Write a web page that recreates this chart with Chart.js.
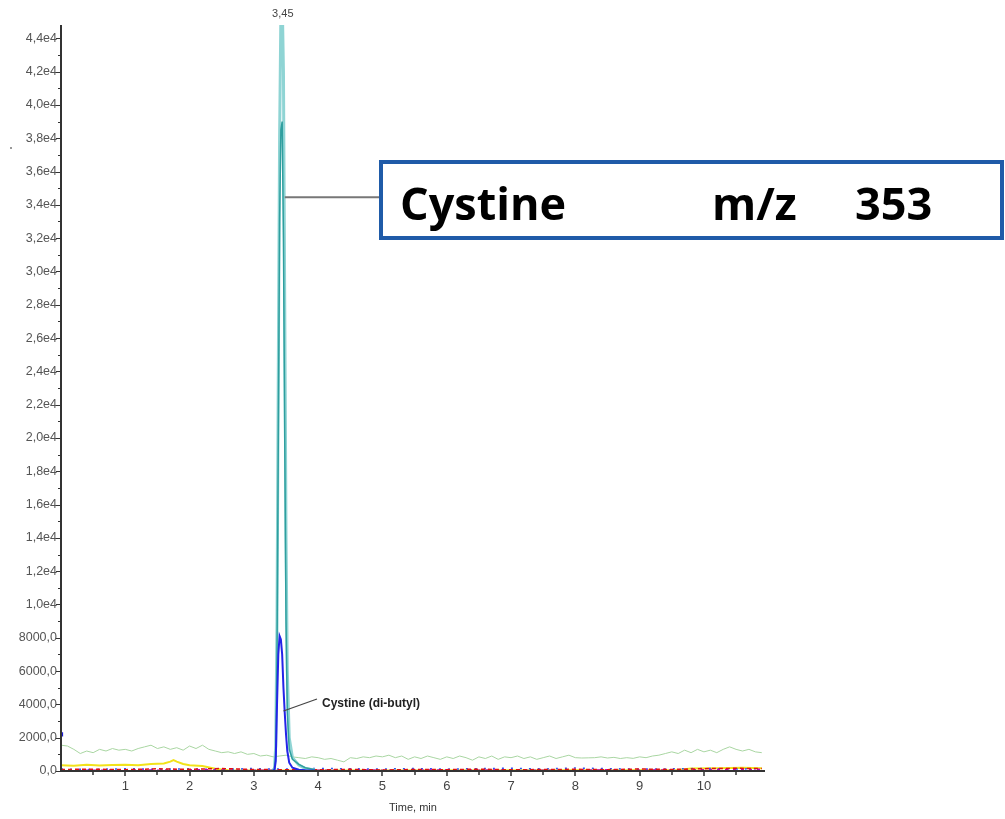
<!DOCTYPE html>
<html>
<head>
<meta charset="utf-8">
<script src="https://cdn.jsdelivr.net/npm/chart.js@4.4.1/dist/chart.umd.min.js"></script>
<style>
  html, body { margin: 0; padding: 0; background: #fff; }
  #wrap { width: 1005px; height: 819px; position: relative; }
</style>
</head>
<body>
<div id="wrap"><canvas id="c" width="1005" height="819"></canvas></div>
<script>
// ---------- data ----------
const yTickValues = [0,2000,4000,6000,8000,10000,12000,14000,16000,18000,20000,22000,24000,26000,28000,30000,32000,34000,36000,38000,40000,42000,44000];
const xTickValues = [1,2,3,4,5,6,7,8,9,10];

const greenTime = [0.0,0.1,0.2,0.3,0.4,0.5,0.6,0.7,0.8,0.9,1.0,1.1,1.2,1.3,1.4,1.5,1.6,1.7,1.8,1.9,2.0,2.1,2.2,2.3,2.4,2.5,2.6,2.7,2.8,2.9,3.0,3.1,3.2,3.3,3.4,3.5,3.6,3.7,3.8,3.9,4.0,4.1,4.2,4.3,4.4,4.5,4.6,4.7,4.8,4.9,5.0,5.1,5.2,5.3,5.4,5.5,5.6,5.7,5.8,5.9,6.0,6.1,6.2,6.3,6.4,6.5,6.6,6.7,6.8,6.9,7.0,7.1,7.2,7.3,7.4,7.5,7.6,7.7,7.8,7.9,8.0,8.1,8.2,8.3,8.4,8.5,8.6,8.7,8.8,8.9,9.0,9.1,9.2,9.3,9.4,9.5,9.6,9.7,9.8,9.9,10.0,10.1,10.2,10.3,10.4,10.5,10.6,10.7,10.8,10.9];
const greenTrace = [1550,1500,1300,1050,1200,1100,1300,1200,1350,1250,1300,1200,1350,1450,1550,1350,1450,1300,1400,1250,1500,1350,1550,1300,1200,1100,1150,1050,1150,1000,1050,900,950,850,900,950,850,800,750,850,800,700,750,650,550,800,750,850,800,900,850,950,800,900,700,850,750,900,800,700,850,750,900,800,650,850,750,900,700,850,800,900,750,850,700,800,900,750,850,950,800,780,790,800,850,780,820,750,800,760,850,800,900,950,1050,1150,1050,1250,1100,1300,1150,1250,1100,1300,1450,1300,1200,1300,1150,1100];

const yellowTime = [0.0,0.2,0.4,0.6,0.8,1.0,1.2,1.4,1.6,1.7,1.75,1.8,1.9,2.0,2.2,2.4,2.6,3.0,5.0,8.0,9.6,9.8,10.2,10.6,10.9];
const yellowTrace = [350,320,380,330,360,380,340,420,450,560,650,560,420,350,300,140,50,30,30,40,60,150,170,190,160];

const peakTime = [3.28,3.32,3.34,3.36,3.38,3.40,3.42,3.44,3.46,3.48,3.50,3.52,3.55,3.60,3.70,3.80,3.95];
const tealLight = [0,150,1500,9000,24000,38000,45500,46500,42000,28000,14000,6000,2000,800,350,150,60];
const tealDark  = [0,100,1000,7000,20000,33000,38500,39000,32000,20000,9000,3500,1300,700,400,200,80];
const bluePeak  = [0,50,600,4000,7000,8100,7900,7000,5000,3500,2200,1200,500,200,80,40,20];

const baseTime = [0.0,0.5,1.0,1.5,2.0,2.5,3.0,3.3,4.0,4.5,5.0,5.5,6.0,6.5,7.0,7.5,8.0,8.5,9.0,9.5,10.0,10.5,10.9];
const redBase     = [90,110,80,130,100,150,90,80,70,100,60,90,80,110,70,90,100,80,120,90,140,160,150];
const magentaBase = [60,40,70,50,80,60,40,50,40,60,50,40,70,50,60,40,50,70,50,60,80,90,100];
const blueBase    = [120,90,140,100,130,90,150,110,160,130,120,150,110,140,170,120,180,140,110,130,150,120,140];

const blueMarkTime = [0.0];
const blueMarkValue = [2200];

const peakLabel = '3,45';
const compoundLabel = 'Cystine (di-butyl)';
const boxName = 'Cystine';
const boxMz = 'm/z';
const boxMass = '353';
const xTitle = 'Time, min';

// ---------- helpers ----------
function pts(t, v) { return t.map((x, i) => ({ x: x, y: v[i] })); }
function fmtY(v) {
  if (v >= 10000) return (v / 10000).toFixed(1).replace('.', ',') + 'e4';
  return v.toFixed(1).replace('.', ',');
}

const decor = {
  id: 'decor',
  afterDatasetsDraw(chart) {
    const ctx = chart.ctx;
    const xs = chart.scales.x, ys = chart.scales.y;
    const ca = chart.chartArea;
    ctx.save();
    // axes
    ctx.strokeStyle = '#333';
    ctx.lineWidth = 2;
    ctx.beginPath();
    ctx.moveTo(ca.left, ca.top);
    ctx.lineTo(ca.left, ca.bottom);
    ctx.lineTo(ca.right, ca.bottom);
    ctx.stroke();
    // y ticks (major + minor)
    ctx.lineWidth = 1;
    yTickValues.forEach(v => {
      const y = Math.round(ys.getPixelForValue(v)) + 0.5;
      ctx.beginPath(); ctx.moveTo(ca.left - 5, y); ctx.lineTo(ca.left, y); ctx.stroke();
      const ym = Math.round(ys.getPixelForValue(v + 1000)) + 0.5;
      if (v + 1000 <= ys.max) { ctx.beginPath(); ctx.moveTo(ca.left - 3, ym); ctx.lineTo(ca.left, ym); ctx.stroke(); }
    });
    // x ticks
    ctx.lineWidth = 1.5;
    [0].concat(xTickValues).forEach(v => {
      const x = Math.round(xs.getPixelForValue(v));
      if (v > 0) { ctx.beginPath(); ctx.moveTo(x, ca.bottom); ctx.lineTo(x, ca.bottom + 5); ctx.stroke(); }
      const xm = Math.round(xs.getPixelForValue(v + 0.5));
      if (v + 0.5 <= xs.max) { ctx.beginPath(); ctx.moveTo(xm, ca.bottom); ctx.lineTo(xm, ca.bottom + 4); ctx.stroke(); }
    });
    // x title
    ctx.fillStyle = '#333';
    ctx.font = '11px "Liberation Sans", Arial, sans-serif';
    ctx.textAlign = 'center';
    ctx.textBaseline = 'middle';
    ctx.fillText(xTitle, (ca.left + ca.right) / 2, 808);
    // peak apex label
    ctx.fillStyle = '#444';
    ctx.font = '11px "Liberation Sans", Arial, sans-serif';
    ctx.fillText(peakLabel, xs.getPixelForValue(3.45), 14);
    // di-butyl label + leader
    const bx = xs.getPixelForValue(3.46), by = ys.getPixelForValue(3600);
    ctx.strokeStyle = '#444';
    ctx.lineWidth = 1.2;
    ctx.beginPath(); ctx.moveTo(bx, by); ctx.lineTo(317, 699); ctx.stroke();
    ctx.fillStyle = '#222';
    ctx.font = 'bold 12px "Liberation Sans", Arial, sans-serif';
    ctx.textAlign = 'left';
    ctx.fillText(compoundLabel, 322, 704);
    // box leader
    const tx = xs.getPixelForValue(3.48), ty = ys.getPixelForValue(34450);
    ctx.strokeStyle = '#777';
    ctx.lineWidth = 2;
    ctx.beginPath(); ctx.moveTo(tx, ty); ctx.lineTo(379, ty); ctx.stroke();
    // box
    ctx.strokeStyle = '#1f5ba8';
    ctx.lineWidth = 4;
    ctx.strokeRect(381, 162, 621, 76);
    ctx.fillStyle = '#000';
    ctx.font = 'bold 45px "Open Sans", "Noto Sans", sans-serif';
    ctx.textBaseline = 'alphabetic';
    ctx.fillText(boxName, 400, 220);
    ctx.fillText(boxMz, 712, 220);
    ctx.fillText(boxMass, 855, 220);
    // stray dot
    ctx.fillStyle = '#999';
    ctx.fillRect(10, 147, 2, 2);
    ctx.restore();
  }
};

const line = (label, data, color, width, extra) => Object.assign({
  label, data, borderColor: color, backgroundColor: color, borderWidth: width,
  pointRadius: 0, tension: 0, fill: false
}, extra || {});

new Chart(document.getElementById('c'), {
  type: 'line',
  data: {
    datasets: [
      line('blueMark', pts(blueMarkTime, blueMarkValue), '#1a1ad0', 0, { pointRadius: 3, pointStyle: 'rect', showLine: false, order: 0 }),
      line('blue', pts(peakTime, bluePeak), '#2424e8', 2, { order: 1 }),
      line('tealDark', pts(peakTime, tealDark), '#2f9f9f', 1.5, { order: 2 }),
      line('tealLight', pts(peakTime, tealLight), '#8fd4d4', 3, { order: 3 }),
      line('red', pts(baseTime, redBase), '#e01010', 1.5, { order: 4, borderDash: [4, 3] }),
      line('magenta', pts(baseTime, magentaBase), '#c000c0', 1.5, { order: 5, borderDash: [3, 5] }),
      line('blueBase', pts(baseTime, blueBase), '#3050f0', 1.5, { order: 6, borderDash: [2, 7] }),
      line('yellow', pts(yellowTime, yellowTrace), '#f2e21a', 2, { order: 7 }),
      line('green', pts(greenTime, greenTrace), '#a9d6a2', 1, { order: 8 })
    ]
  },
  options: {
    responsive: false,
    animation: false,
    layout: { padding: { left: 0, top: 25, right: 240, bottom: 0 } },
    plugins: { legend: { display: false }, tooltip: { enabled: false } },
    scales: {
      x: {
        type: 'linear', min: 0, max: 10.95,
        grid: { display: false, drawTicks: false }, border: { display: false },
        afterFit: s => { s.height = 48; },
        afterBuildTicks: s => { s.ticks = xTickValues.map(v => ({ value: v })); },
        ticks: {
          padding: 8, color: '#444',
          font: { family: '"Liberation Sans", Arial, sans-serif', size: 13 },
          maxRotation: 0, autoSkip: false,
          callback: v => String(v)
        }
      },
      y: {
        type: 'linear', min: 0, max: 44800,
        grid: { display: false, drawTicks: false }, border: { display: false },
        afterFit: s => { s.width = 61; },
        afterBuildTicks: s => { s.ticks = yTickValues.map(v => ({ value: v })); },
        ticks: {
          padding: 4, color: '#555', autoSkip: false,
          font: { family: '"Liberation Sans", Arial, sans-serif', size: 12.5 },
          callback: v => fmtY(v)
        }
      }
    }
  },
  plugins: [decor]
});
</script>
</body>
</html>
